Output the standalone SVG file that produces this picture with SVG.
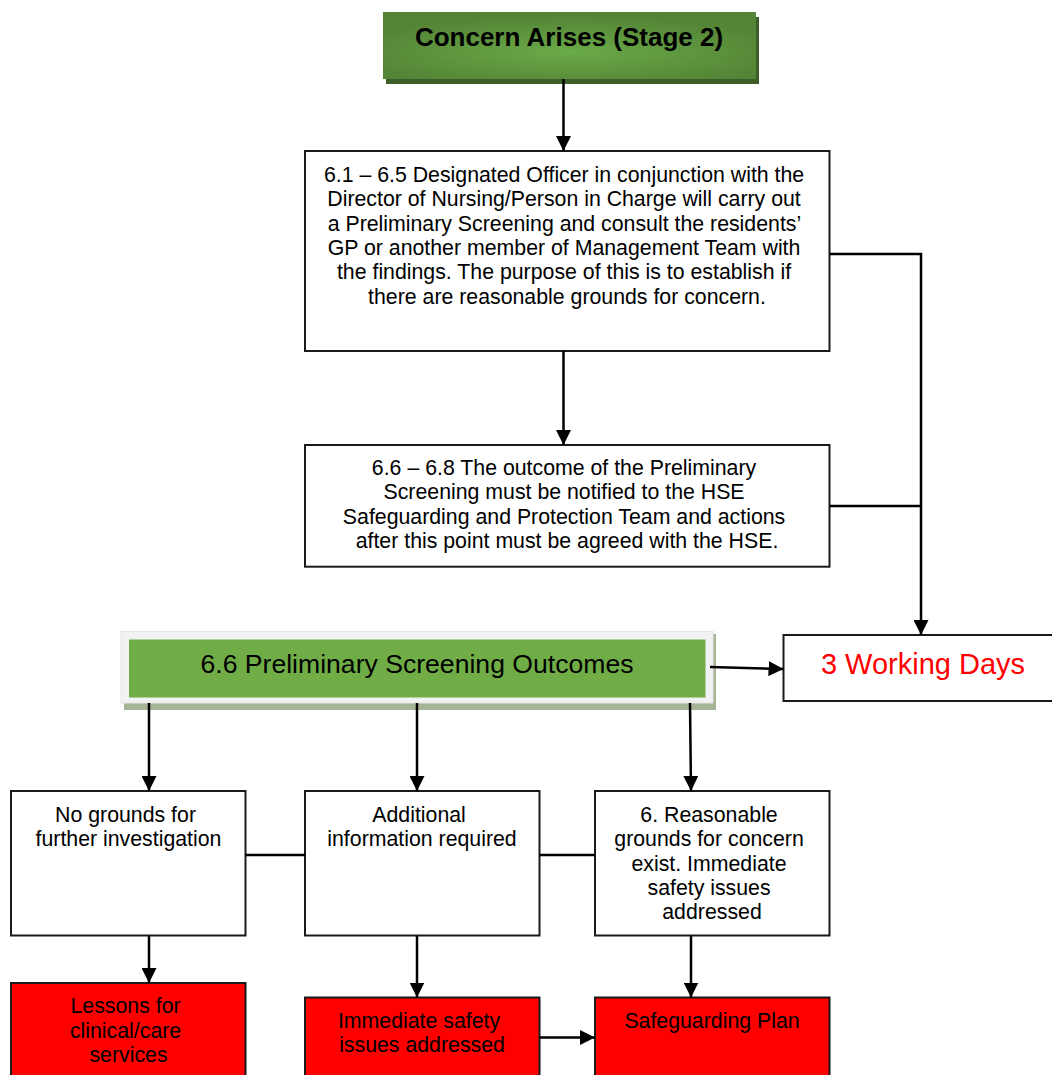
<svg xmlns="http://www.w3.org/2000/svg" width="1052" height="1075" viewBox="0 0 1052 1075">
  <style>
    .box { fill: #ffffff; stroke: #1a1a1a; stroke-width: 2; }
    .red { fill: #ff0000; stroke: #1a1a1a; stroke-width: 2; }
    .t { font-family: "Liberation Sans", Arial, sans-serif; font-size: 21.3px; fill: #000; text-anchor: middle; }
    .conn { stroke: #000; stroke-width: 2.5; fill: none; }
    .arr { stroke: #000; stroke-width: 2.5; fill: none; marker-end: url(#ah); }
  </style>
  <defs>
    <marker id="ah" viewBox="0 0 10 10" refX="10" refY="5" markerWidth="15" markerHeight="15" markerUnits="userSpaceOnUse" orient="auto">
      <path d="M0,0 L10,5 L0,10 z" fill="#000"/>
    </marker>
    <radialGradient id="g1" cx="0.5" cy="0.6" r="0.6" gradientTransform="translate(0.5 0.6) scale(1 0.9) translate(-0.5 -0.6)">
      <stop offset="0" stop-color="#6aaa48"/>
      <stop offset="1" stop-color="#548436"/>
    </radialGradient>
  </defs>
  <rect width="1052" height="1075" fill="#ffffff"/>

  <g id="concern-arises">
    <rect x="386" y="17" width="373" height="67" fill="#3d5e28"/>
    <rect x="383" y="12" width="373" height="67" fill="url(#g1)"/>
    <text x="569" y="46" class="t" style="font-size:26px;font-weight:bold">Concern Arises (Stage 2)</text>
  </g>

  <g id="preliminary-screening">
    <rect x="305" y="151" width="524.5" height="200" class="box"/>
    <text class="t">
      <tspan x="567" y="181.7">6.1 – 6.5 Designated Officer in conjunction with the</tspan>
      <tspan x="567" y="206.1">Director of Nursing/Person in Charge will carry out</tspan>
      <tspan x="567" y="230.5">a Preliminary Screening and consult the residents’</tspan>
      <tspan x="567" y="254.9">GP or another member of Management Team with</tspan>
      <tspan x="567" y="279.3">the findings. The purpose of this is to establish if</tspan>
      <tspan x="567" y="303.7">there are reasonable grounds for concern.</tspan>
    </text>
  </g>

  <g id="outcome-notified">
    <rect x="305" y="445" width="524.5" height="121.7" class="box"/>
    <text class="t">
      <tspan x="567" y="475">6.6 – 6.8 The outcome of the Preliminary</tspan>
      <tspan x="567" y="499.4">Screening must be notified to the HSE</tspan>
      <tspan x="567" y="523.8">Safeguarding and Protection Team and actions</tspan>
      <tspan x="567" y="548.2">after this point must be agreed with the HSE.</tspan>
    </text>
  </g>

  <g id="screening-outcomes">
    <rect x="124" y="634" width="592" height="76" fill="#a6b596"/>
    <rect x="121" y="631.5" width="592" height="71.5" fill="#f2f2f2" stroke="#e4e4e4" stroke-width="1"/>
    <rect x="129" y="639.5" width="576.5" height="58" fill="#70ad47"/>
    <text x="417" y="673.3" class="t" style="font-size:26.6px">6.6 Preliminary Screening Outcomes</text>
  </g>

  <g id="working-days">
    <rect x="783.5" y="635" width="280" height="66" class="box"/>
    <text x="923" y="673.5" class="t" style="font-size:29px;fill:#ff0000">3 Working Days</text>
  </g>

  <g id="no-grounds">
    <rect x="11" y="791" width="234.5" height="144.5" class="box"/>
    <text class="t">
      <tspan x="128.5" y="821.7">No grounds for</tspan>
      <tspan x="128.5" y="846.1">further investigation</tspan>
    </text>
  </g>

  <g id="additional-info">
    <rect x="305" y="791" width="234.5" height="144.5" class="box"/>
    <text class="t">
      <tspan x="422" y="821.7">Additional</tspan>
      <tspan x="422" y="846.1">information required</tspan>
    </text>
  </g>

  <g id="reasonable-grounds">
    <rect x="595" y="791" width="234.5" height="144.5" class="box"/>
    <text class="t">
      <tspan x="712" y="821.7">6. Reasonable</tspan>
      <tspan x="712" y="846.1">grounds for concern</tspan>
      <tspan x="712" y="870.5">exist. Immediate</tspan>
      <tspan x="712" y="894.9">safety issues</tspan>
      <tspan x="712" y="919.3">addressed</tspan>
    </text>
  </g>

  <g id="lessons">
    <rect x="11" y="983" width="234.5" height="100" class="red"/>
    <text class="t">
      <tspan x="128.5" y="1013.3">Lessons for</tspan>
      <tspan x="128.5" y="1037.7">clinical/care</tspan>
      <tspan x="128.5" y="1062.1">services</tspan>
    </text>
  </g>

  <g id="immediate-safety">
    <rect x="305" y="997.5" width="234.5" height="90" class="red"/>
    <text class="t">
      <tspan x="422" y="1028">Immediate safety</tspan>
      <tspan x="422" y="1052.4">issues addressed</tspan>
    </text>
  </g>

  <g id="safeguarding-plan">
    <rect x="595" y="997.5" width="234.5" height="90" class="red"/>
    <text x="712" y="1028" class="t">Safeguarding Plan</text>
  </g>

  <g id="connectors">
    <line x1="563.5" y1="79" x2="563.5" y2="151" class="arr"/>
    <line x1="563.5" y1="351" x2="563.5" y2="445" class="arr"/>
    <polyline points="829.5,254 921,254 921,635" class="arr"/>
    <line x1="829.5" y1="506" x2="921" y2="506" class="conn"/>
    <line x1="710" y1="667" x2="783.5" y2="669" class="arr"/>
    <line x1="149" y1="703" x2="149" y2="791" class="arr"/>
    <line x1="417" y1="703" x2="417" y2="791" class="arr"/>
    <line x1="690" y1="703" x2="691" y2="791" class="arr"/>
    <line x1="245.5" y1="855" x2="305" y2="855" class="conn"/>
    <line x1="539.5" y1="855" x2="595" y2="855" class="conn"/>
    <line x1="149" y1="935.5" x2="149" y2="983" class="arr"/>
    <line x1="417" y1="935.5" x2="417" y2="997.5" class="arr"/>
    <line x1="691" y1="935.5" x2="691" y2="997.5" class="arr"/>
    <line x1="539.5" y1="1037.5" x2="595" y2="1037.5" class="arr"/>
  </g>
</svg>
